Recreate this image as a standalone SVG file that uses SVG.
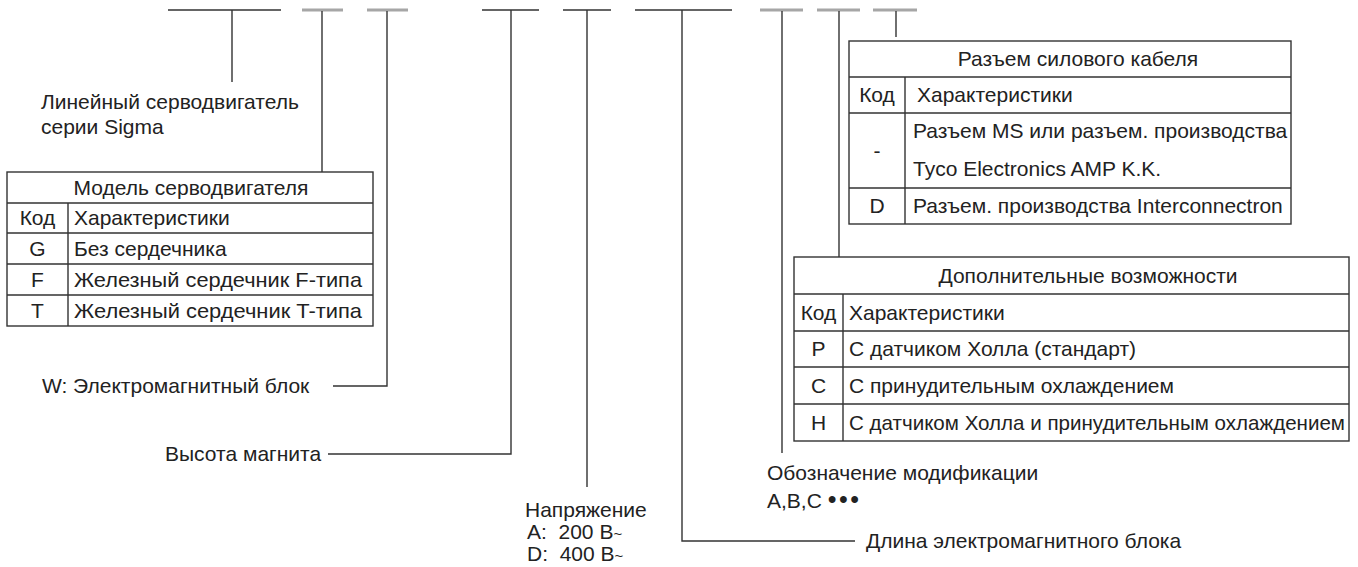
<svg xmlns="http://www.w3.org/2000/svg" width="1358" height="567" viewBox="0 0 1358 567">
<style>
text{font-family:"Liberation Sans",Arial,Helvetica,sans-serif;font-size:21px;fill:#222}
.c{text-anchor:middle}
.ln{stroke:#333;stroke-width:1.4;fill:none}
.gr{stroke:#a6a6a6;stroke-width:3;fill:none}
.tb{stroke:#333;stroke-width:1.4;fill:#fff}
</style>
<rect width="1358" height="567" fill="#fff"/>
<g id="connectors">
<path class="ln" d="M168 10H281M232 10V82"/>
<path class="gr" d="M302 10H343M367 10H408M760 10H803M817 10H860M873 10H917"/>
<path class="ln" d="M322 11V172"/>
<path class="ln" d="M387 11V386H333"/>
<path class="ln" d="M482 10H539M511 10V454H328"/>
<path class="ln" d="M563 10H611M587 10V487"/>
<path class="ln" d="M635 10H732M682 10V541H855"/>
<path class="ln" d="M782 11V453"/>
<path class="ln" d="M839 11V257"/>
<path class="ln" d="M896 11V37"/>
</g>
<g id="series">
<text x="41" y="109">Линейный серводвигатель</text>
<text x="41" y="134">серии Sigma</text>
</g>
<g id="model-table">
<rect class="tb" x="7" y="172" width="366" height="154"/>
<path class="ln" d="M7 203H373M7 233H373M7 264H373M7 295H373M68 203V326"/>
<text class="c" x="191" y="195">Модель серводвигателя</text>
<text class="c" x="37.5" y="225">Код</text>
<text x="74" y="225">Характеристики</text>
<text class="c" x="37.5" y="256">G</text>
<text x="74" y="256">Без сердечника</text>
<text class="c" x="37.5" y="287">F</text>
<text x="74" y="287" textLength="288" lengthAdjust="spacingAndGlyphs">Железный сердечник F-типа</text>
<text class="c" x="37.5" y="318">T</text>
<text x="74" y="318" textLength="288" lengthAdjust="spacingAndGlyphs">Железный сердечник T-типа</text>
</g>
<g id="w-block">
<text x="42" y="393">W: Электромагнитный блок</text>
</g>
<g id="magnet-height">
<text x="165" y="461">Высота магнита</text>
</g>
<g id="voltage">
<text x="525" y="517">Напряжение</text>
<text x="527" y="539" style="white-space:pre">A:  200 В<tspan font-size="15">~</tspan></text>
<text x="527" y="561" style="white-space:pre">D:  400 В<tspan font-size="15">~</tspan></text>
</g>
<g id="length">
<text x="866" y="548">Длина электромагнитного блока</text>
</g>
<g id="modification">
<text x="767" y="480">Обозначение модификации</text>
<text x="767" y="508">A,B,C <tspan font-size="25" letter-spacing="2.5">•••</tspan></text>
</g>
<g id="cable-table">
<rect class="tb" x="849" y="41" width="442" height="183"/>
<path class="ln" d="M849 77H1291M849 113H1291M849 188H1291M905 77V224"/>
<text class="c" x="1078" y="66">Разъем силового кабеля</text>
<text class="c" x="877" y="102">Код</text>
<text x="917" y="102">Характеристики</text>
<text class="c" x="877" y="158">-</text>
<text x="913" y="138">Разъем MS или разъем. производства</text>
<text x="913" y="176">Tyco Electronics AMP K.K.</text>
<text class="c" x="877" y="213">D</text>
<text x="913" y="213">Разъем. производства Interconnectron</text>
</g>
<g id="options-table">
<rect class="tb" x="794" y="257" width="555" height="184"/>
<path class="ln" d="M794 294H1349M794 331H1349M794 367H1349M794 404H1349M843 294V441"/>
<text class="c" x="1088" y="283">Дополнительные возможности</text>
<text class="c" x="818.5" y="320">Код</text>
<text x="849" y="320">Характеристики</text>
<text class="c" x="818.5" y="356">P</text>
<text x="849" y="356">С датчиком Холла (стандарт)</text>
<text class="c" x="818.5" y="393">C</text>
<text x="849" y="393">С принудительным охлаждением</text>
<text class="c" x="818.5" y="430">H</text>
<text x="849" y="430" textLength="496" lengthAdjust="spacingAndGlyphs">С датчиком Холла и принудительным охлаждением</text>
</g>
</svg>
